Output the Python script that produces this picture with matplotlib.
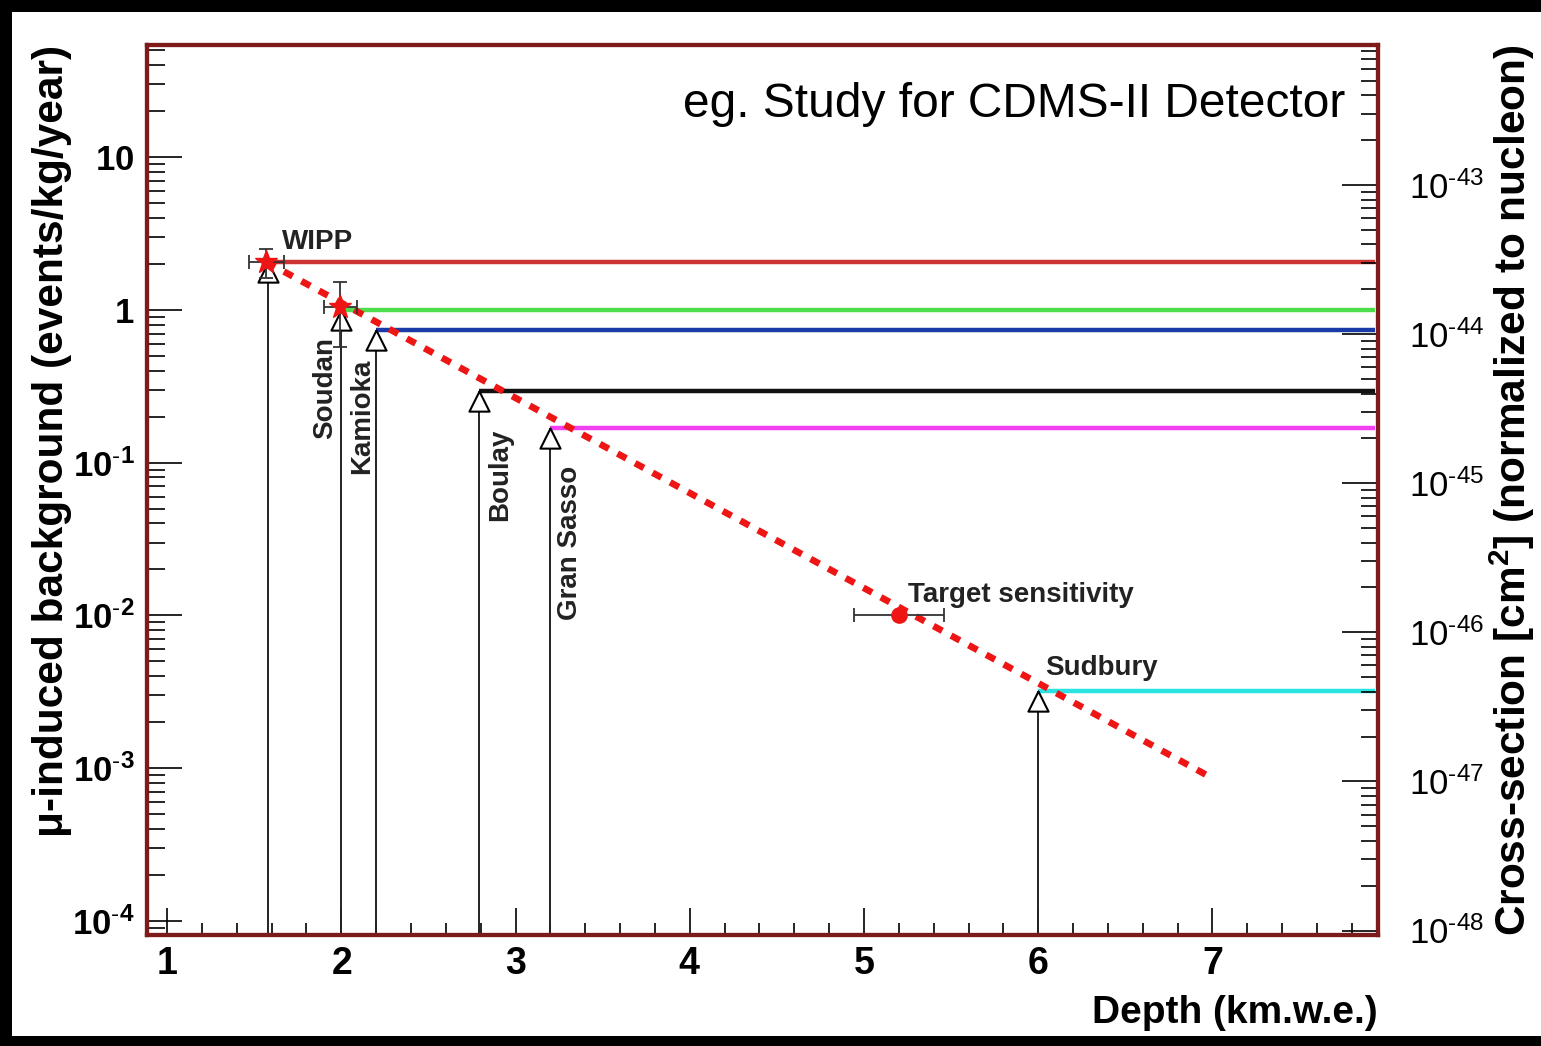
import numpy as np
import matplotlib.pyplot as plt
from matplotlib.patches import Rectangle
from matplotlib.path import Path
from matplotlib.ticker import FixedLocator, FixedFormatter, LogLocator, MultipleLocator, NullFormatter

plt.rcParams['font.family'] = ['Liberation Sans', 'DejaVu Sans']
plt.rcParams['mathtext.fontset'] = 'custom'
plt.rcParams['mathtext.rm'] = 'Liberation Sans'
plt.rcParams['mathtext.bf'] = 'Liberation Sans:bold'
plt.rcParams['mathtext.it'] = 'Liberation Sans:italic'

# underground sites: depth (km.w.e.) and mu-induced background (events/kg/year)
sites = ['WIPP', 'Soudan', 'Kamioka', 'Boulay', 'Gran Sasso', 'Sudbury']
depth = [1.58, 2.0, 2.2, 2.79, 3.2, 6.0]
rate = [2.06, 1.0, 0.74, 0.294, 0.168, 0.0032]
site_colors = ['#cc3333', '#4ddd4d', '#1a3aa8', '#111111', '#f23ff2', '#2ae4e4']

# measured points (WIPP, Soudan)
meas_x = [1.57, 1.99]
meas_y = [2.06, 1.05]
meas_xerr = [[0.1, 0.09], [0.1, 0.1]]
meas_yerr = [[0.45, 0.48], [0.45, 0.48]]

# target sensitivity
target_x = [5.2]
target_y = [0.01]
target_xerr = [0.26]

# trend line
trend_x = [1.57, 7.0]
trend_y = [2.06, 8.6e-4]

left_ticks = [1e-4, 1e-3, 1e-2, 1e-1, 1, 10]
left_labels = [r'$\mathbf{10^{\text{-}4}}$', r'$\mathbf{10^{\text{-}3}}$',
               r'$\mathbf{10^{\text{-}2}}$', r'$\mathbf{10^{\text{-}1}}$',
               r'$\mathbf{1}$', r'$\mathbf{10}$']
right_ticks = [1e-48, 1e-47, 1e-46, 1e-45, 1e-44, 1e-43]
right_labels = [r'$10^{\text{-}48}$', r'$10^{\text{-}47}$', r'$10^{\text{-}46}$',
                r'$10^{\text{-}45}$', r'$10^{\text{-}44}$', r'$10^{\text{-}43}$']
x_ticks = [1, 2, 3, 4, 5, 6, 7]

# label placement for the site names
lab_x = [1.66, 1.907, 2.12, 2.91, 3.31, 6.04]
lab_y = [2.51, 0.666, 0.48, 0.166, 0.095, 0.0041]
lab_rot = [0, 90, 90, 90, 90, 0]

W, H = 1541, 1046
fig = plt.figure(figsize=(W / 100, H / 100), dpi=100, facecolor='black')
fig.add_artist(Rectangle((12 / W, 10 / H), 1 - 12 / W, 1024 / H,
                         transform=fig.transFigure, facecolor='white',
                         edgecolor='none', zorder=-5))

ax = fig.add_axes([147 / W, 111 / H, 1231 / W, 890 / H])
ax.set_yscale('log')
ax.set_xlim(0.885, 7.95)
ax.set_ylim(8.1e-5, 54.2)

xmax_line = 7.93
# horizontal levels
ax.hlines(rate, depth, xmax_line, colors=site_colors, lw=3.2, zorder=2)
# drop lines
ax.vlines(depth, 8.1e-5, rate, colors='#222222', lw=1.4, zorder=2)

# triangles with apex at the data point
tri = Path([(0, 0), (-1, -2), (1, -2), (0, 0)],
           [Path.MOVETO, Path.LINETO, Path.LINETO, Path.CLOSEPOLY])
ax.plot(depth, rate, ls='none', marker=tri, ms=29, mfc='white', mec='black',
        mew=1.5, zorder=3)

ax.plot(trend_x, trend_y, color='#ee1515', lw=4.8, dashes=(1.5, 1.5),
        dash_capstyle='butt', zorder=4)

ax.errorbar(meas_x, meas_y, xerr=meas_xerr, yerr=meas_yerr, fmt='*',
            color='#ee1515', ms=17, ecolor='#333333', elinewidth=1.3,
            capsize=5, capthick=1.3, zorder=5)
ax.errorbar(target_x, target_y, xerr=target_xerr, fmt='o', color='#ee1515',
            ms=11, ecolor='#333333', elinewidth=1.3, capsize=5,
            capthick=1.3, zorder=5)

for name, x, y, r in zip(sites, lab_x, lab_y, lab_rot):
    if r == 0:
        ax.text(x, y, name, fontsize=20, weight='bold', color='#222222',
                ha='left', va='baseline')
    else:
        ax.text(x, y, name, fontsize=20, weight='bold', color='#222222',
                rotation=90, ha='center', va='top')
ax.text(5.25, 0.0122, 'Target sensitivity', fontsize=20, weight='bold',
        color='#222222', ha='left', va='baseline')

# axes style
ax.yaxis.set_major_locator(FixedLocator(left_ticks))
ax.yaxis.set_major_formatter(FixedFormatter(left_labels))
ax.yaxis.set_minor_locator(LogLocator(base=10, subs=np.arange(2, 10), numticks=20))
ax.yaxis.set_minor_formatter(NullFormatter())
ax.xaxis.set_major_locator(FixedLocator(x_ticks))
ax.xaxis.set_major_formatter(FixedFormatter([r'$\mathbf{%d}$' % t for t in x_ticks]))
ax.xaxis.set_minor_locator(MultipleLocator(0.2))

ax.tick_params(axis='y', which='major', direction='in', length=25, width=1.2,
               labelsize=25, pad=9, right=False)
ax.tick_params(axis='y', which='minor', direction='in', length=13, width=1.2,
               right=False)
ax.tick_params(axis='x', which='major', direction='in', length=19.5, width=1.2,
               labelsize=27, pad=8, top=False)
ax.tick_params(axis='x', which='minor', direction='in', length=8.6, width=1.2,
               top=False)

ax2 = ax.twinx()
ax2.set_yscale('log')
ax2.set_ylim(10 ** -48.03, 10 ** -42.06)
ax2.yaxis.set_major_locator(FixedLocator(right_ticks))
ax2.yaxis.set_major_formatter(FixedFormatter(right_labels))
ax2.yaxis.set_minor_locator(LogLocator(base=10, subs=np.arange(2, 10), numticks=20))
ax2.yaxis.set_minor_formatter(NullFormatter())
ax2.tick_params(axis='y', which='major', direction='in', length=26, width=1.2,
                labelsize=25, pad=22)
ax2.tick_params(axis='y', which='minor', direction='in', length=12, width=1.2)

for a in (ax, ax2):
    for s in a.spines.values():
        s.set_color('#7d1a1a')
        s.set_linewidth(3)

fig.text(52 / W, 1 - 45 / H, '\u03bc-induced background (events/kg/year)',
         rotation=90, ha='center', va='top', fontsize=30.5, weight='bold')
fig.text(1512 / W, 1 - 45 / H,
         r'Cross-section [cm$^{\mathbf{2}}$] (normalized to nucleon)',
         rotation=90, ha='center', va='top', fontsize=30.5, weight='bold')
fig.text(1378 / W, 1 - 1013 / H, 'Depth (km.w.e.)', ha='right', va='center',
         fontsize=28, weight='bold')
fig.text(1345 / W, 1 - 117 / H, 'eg. Study for CDMS-II Detector', ha='right',
         va='baseline', fontsize=34.5)

fig.savefig('out.png', dpi=100, facecolor=fig.get_facecolor())
